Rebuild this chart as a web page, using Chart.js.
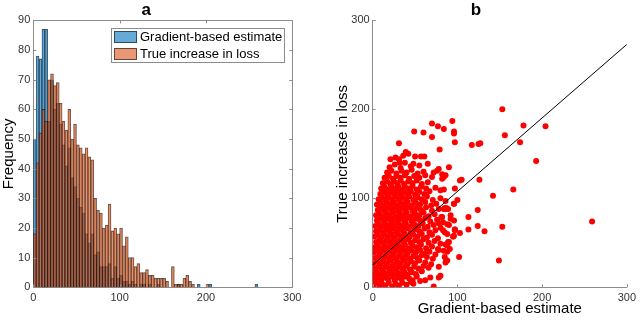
<!DOCTYPE html>
<html>
<head>
<meta charset="utf-8">
<script src="https://cdn.jsdelivr.net/npm/chart.js@4.4.1/dist/chart.umd.min.js"></script>
<style>
  html, body { margin: 0; padding: 0; background: #fff; }
  #wrap { position: relative; width: 640px; height: 320px; overflow: hidden; }
  #wrap canvas { position: absolute; top: 0; }
  #histChart { left: 0; }
  #scatterChart { left: 320px; }
</style>
</head>
<body>
<div id="wrap">
  <canvas id="histChart" width="320" height="320"></canvas>
  <canvas id="scatterChart" width="320" height="320"></canvas>
</div>
<script>
// ---- data ----
const binWidth = 10 / 3;

// panel a: counts per bin (bin i covers i*binWidth .. (i+1)*binWidth)
const gradientCounts = [
  50, 78, 77, 87, 87, 56, 70, 60, 62, 55, 48, 41, 47, 37, 34, 30, 27, 25, 18, 15,
  18, 11, 12, 7, 7, 7, 8, 3, 7, 3, 4, 2, 2, 1, 2, 1, 0, 1, 1, 0,
  1, 0, 0, 1, 0, 0, 0, 0, 0, 0, 1, 0, 0, 0, 0, 0, 0, 1, 0, 0,
  0, 1, 0, 0, 0, 0, 0, 0, 0, 0, 0, 0, 0, 0, 0, 0, 0, 1
];
const trueCounts = [
  18, 42, 52, 60, 56, 70, 72, 68, 69, 62, 56, 53, 60, 50, 55, 48, 47, 45, 47, 44,
  43, 30, 26, 25, 20, 21, 28, 19, 20, 18, 20, 14, 17, 10, 10, 7, 8, 5, 5, 6,
  4, 4, 3, 3, 3, 3, 2, 0, 7, 1, 1, 1, 3, 4, 2, 1, 0, 0, 0, 0, 1
];

const histXTicks = [0, 100, 200, 300];
const histYTicks = [0, 10, 20, 30, 40, 50, 60, 70, 80, 90];
const scatterTicks = [0, 100, 200, 300];

// panel b: [gradient-based estimate, true increase in loss]
const scatterPoints = [
  [1,2],[4,5],[8,1],[11,4],[15,2],[19,5],[23,1],[27,4],[31,2],[35,5],[40,3],[45,6],[48,4],[56,7],[72,1],
  [2,9],[6,11],[10,8],[14,11],[18,9],[22,12],[26,8],[30,11],[34,9],[38,12],[43,10],[47,8],[52,12],[62,8],[68,11],
  [1,15],[5,17],[9,14],[13,17],[17,15],[21,18],[25,14],[29,17],[33,15],[37,18],[41,14],[46,17],[51,15],[58,18],[80,13],
  [3,21],[7,23],[11,20],[15,23],[19,21],[23,24],[27,20],[31,23],[35,21],[39,24],[44,20],[49,23],[54,21],[60,24],[66,22],
  [1,27],[5,29],[9,26],[13,29],[17,27],[21,30],[25,26],[29,29],[33,27],[37,30],[41,26],[45,29],[50,27],[55,30],[62,28],[69,26],
  [3,33],[7,35],[11,32],[15,35],[19,33],[23,36],[27,32],[31,35],[35,33],[39,36],[43,32],[48,35],[53,33],[58,36],[64,34],[71,32],[87,30],
  [1,39],[5,41],[9,38],[13,41],[17,39],[21,42],[25,38],[29,41],[33,39],[37,42],[41,38],[46,41],[51,39],[56,42],[61,38],[67,40],[74,37],[84,41],
  [2,45],[6,47],[10,44],[14,47],[18,45],[22,48],[26,44],[30,47],[34,45],[38,48],[42,44],[47,47],[52,45],[57,48],[63,44],[70,46],[77,43],[86,48],
  [4,51],[8,53],[12,50],[16,53],[20,51],[24,54],[28,50],[32,53],[36,51],[40,54],[45,50],[50,53],[55,51],[60,54],[66,50],[73,52],[80,49],[90,51],
  [2,57],[6,59],[10,56],[14,59],[18,57],[22,60],[26,56],[30,59],[34,57],[38,60],[43,56],[48,59],[53,57],[58,60],[64,56],[70,59],[77,55],[95,57],
  [4,63],[8,65],[12,62],[16,65],[20,63],[24,66],[28,62],[32,65],[36,63],[40,66],[45,62],[50,65],[55,63],[61,66],[67,62],[74,64],[85,62],[97,65],
  [3,69],[7,71],[11,68],[15,71],[19,69],[23,72],[27,68],[31,71],[35,69],[39,72],[44,68],[49,71],[54,69],[59,72],[65,68],[72,70],[80,67],[88,71],
  [5,75],[9,77],[13,74],[17,77],[21,75],[25,78],[29,74],[33,77],[37,75],[41,78],[46,74],[51,77],[56,75],[62,78],[68,74],[76,76],[83,73],[92,77],
  [4,81],[8,83],[12,80],[16,83],[20,81],[24,84],[28,80],[32,83],[36,81],[40,84],[45,80],[50,83],[55,81],[60,84],[66,80],[73,82],[81,79],[86,88],
  [6,87],[10,89],[14,86],[18,89],[22,87],[26,90],[30,86],[34,89],[38,87],[42,90],[47,86],[52,89],[57,87],[63,90],[70,86],[78,88],[84,88],[96,94],
  [5,93],[9,95],[13,92],[17,95],[21,93],[25,96],[29,92],[33,95],[37,93],[41,96],[46,92],[51,95],[56,93],[62,96],[69,92],[75,94],
  [7,99],[11,101],[15,98],[19,101],[23,99],[27,102],[31,98],[35,101],[39,99],[43,102],[48,98],[53,101],[58,99],[64,102],[71,98],
  [9,105],[13,107],[17,104],[21,107],[25,105],[29,108],[33,104],[37,107],[41,105],[45,108],[50,104],[55,107],[61,105],[67,108],
  [10,111],[14,113],[18,110],[22,113],[26,111],[30,114],[34,110],[38,113],[42,111],[47,114],[52,110],[57,113],[63,111],[74,112],
  [12,117],[17,119],[21,116],[25,119],[29,117],[33,120],[37,116],[42,119],[47,117],[52,120],[58,116],[65,118],
  [14,123],[19,125],[24,122],[28,125],[33,123],[38,126],[43,122],[49,125],[55,123],[62,126],[70,124],
  [17,129],[22,131],[28,128],[34,131],[40,129],[46,132],[53,128],[60,130],[72,129],[76,131],
  [20,135],[26,138],[33,134],[38,140],[45,136],[55,137],[65,139],[32,140],[48,139],
  [21,144],[31,144],[42,150],[39,152],[50,147],[57,147],[61,147],[36,148],[27,146],
  [31,162],[60,174],[70,184],[77,181],[84,178],[94,187],[96,175],[96,173],[97,163],[70,169],[79,155],[49,175],
  [117,160],[125,161],[127,162],[153,200],[178,182],[204,181],[156,171],[174,163],[193,142],[166,110],[142,103],
  [259,74],[153,68],[132,63],[149,30],[126,121],[124,87],[124,69],[113,79],[113,65],[103,120],[105,121],[102,34],
  [103,61],[97,111],[96,94],[96,75],[97,65],[95,57],[90,135],[82,127],[84,124],[89,88],[92,81],[86,97],[84,110],
  [100,98],[88,60],[91,43],[85,34],[78,23],[86,28],[78,133],[82,122],[86,126],[80,109],[80,100],[85,89],[87,89],
  [82,79],[90,70],[78,72],[83,64],[97,64],[96,58],[89,51],[88,47],[78,42],[88,40],[88,30],[78,11]
];

const fitX = [0, 300];
const fitY = [25, 273];

// ---- styling ----
const fontFamily = "'Liberation Sans', Arial, Helvetica, sans-serif";
const axisColor = "#8c8c8c";
const labelColor = "#333333";
const blueFill = "rgba(0, 114, 189, 0.6)";
const orangeFill = "rgba(217, 83, 25, 0.6)";
const barEdge = "rgba(0, 0, 0, 0.65)";

Chart.defaults.font.family = fontFamily;
Chart.defaults.color = labelColor;
Chart.defaults.animation = false;

function binSeries(counts) {
  return counts.map((count, i) => ({ x: (i + 0.5) * binWidth, y: count }));
}

function fixedTicks(values) {
  return (scale) => {
    scale.ticks = values.map((value) => ({ value }));
  };
}

// small inward tick marks, MATLAB style; optional top/right box lines
const innerTicks = {
  id: "innerTicks",
  afterDatasetsDraw(chart, args, opts) {
    const { ctx, chartArea: area, scales } = chart;
    const len = 3;
    ctx.save();
    ctx.strokeStyle = axisColor;
    ctx.lineWidth = 1;
    ctx.beginPath();
    scales.x.ticks.forEach((tick) => {
      const px = Math.round(scales.x.getPixelForValue(tick.value)) + 0.5;
      ctx.moveTo(px, area.bottom);
      ctx.lineTo(px, area.bottom - len);
      if (opts.box) {
        ctx.moveTo(px, area.top);
        ctx.lineTo(px, area.top + len);
      }
    });
    scales.y.ticks.forEach((tick) => {
      const py = Math.round(scales.y.getPixelForValue(tick.value)) + 0.5;
      ctx.moveTo(area.left, py);
      ctx.lineTo(area.left + len, py);
      if (opts.box) {
        ctx.moveTo(area.right, py);
        ctx.lineTo(area.right - len, py);
      }
    });
    if (opts.box) {
      const top = Math.round(area.top) + 0.5;
      const right = Math.round(area.right) + 0.5;
      ctx.moveTo(area.left, top);
      ctx.lineTo(right, top);
      ctx.lineTo(right, area.bottom);
    }
    ctx.stroke();
    ctx.restore();
  }
};

// legend box in the top right of panel a
const boxLegend = {
  id: "boxLegend",
  afterDraw(chart, args, opts) {
    if (!opts.display) return;
    const { ctx } = chart;
    const { left, top, width, height } = opts;
    ctx.save();
    ctx.fillStyle = "#ffffff";
    ctx.fillRect(left, top, width, height);
    ctx.strokeStyle = axisColor;
    ctx.lineWidth = 1;
    ctx.strokeRect(left + 0.5, top + 0.5, width, height);
    ctx.font = `13px ${fontFamily}`;
    ctx.textBaseline = "middle";
    const rowH = 17;
    chart.data.datasets
      .slice()
      .sort((a, b) => a.legendRank - b.legendRank)
      .forEach((ds, i) => {
        const cy = top + 9 + i * rowH;
        ctx.fillStyle = "#ffffff";
        ctx.fillRect(left + 3, cy - 6, 23, 12);
        ctx.fillStyle = ds.backgroundColor;
        ctx.fillRect(left + 3, cy - 6, 23, 12);
        ctx.strokeStyle = "rgba(0,0,0,0.55)";
        ctx.strokeRect(left + 3.5, cy - 5.5, 22, 11);
        ctx.fillStyle = "#000000";
        ctx.fillText(ds.label, left + 29, cy + 0.5);
      });
    ctx.restore();
  }
};

const tickFont = { family: fontFamily, size: 11 };

new Chart(document.getElementById("histChart"), {
  type: "bar",
  data: {
    datasets: [
      {
        label: "Gradient-based estimate",
        legendRank: 0,
        data: binSeries(gradientCounts),
        backgroundColor: blueFill,
        borderColor: barEdge,
        borderWidth: 0.6,
        order: 2
      },
      {
        label: "True increase in loss",
        legendRank: 1,
        data: binSeries(trueCounts),
        backgroundColor: orangeFill,
        borderColor: barEdge,
        borderWidth: 0.6,
        order: 1
      }
    ]
  },
  options: {
    responsive: false,
    devicePixelRatio: 1,
    animation: false,
    grouped: false,
    barPercentage: 1,
    categoryPercentage: 1,
    layout: { autoPadding: false, padding: { left: 0, right: 27.7, top: 0, bottom: 0 } },
    plugins: {
      legend: { display: false },
      tooltip: { enabled: false },
      title: {
        display: true,
        text: "a",
        color: "#000000",
        font: { family: fontFamily, size: 17, weight: "bold" },
        padding: { top: 0, bottom: 0 }
      },
      innerTicks: { box: true },
      boxLegend: { display: true, left: 111, top: 28, width: 173, height: 34 }
    },
    scales: {
      x: {
        type: "linear",
        min: 0,
        max: 300,
        offset: false,
        afterBuildTicks: fixedTicks(histXTicks),
        afterFit(scale) { scale.height = 32.7; },
        grid: { display: false, drawTicks: false },
        border: { display: true, color: axisColor, width: 1 },
        ticks: { font: tickFont, color: labelColor, padding: 4, maxRotation: 0 }
      },
      y: {
        min: 0,
        max: 90,
        afterBuildTicks: fixedTicks(histYTicks),
        afterFit(scale) { scale.width = 33.3; },
        grid: { display: false, drawTicks: false },
        border: { display: true, color: axisColor, width: 1 },
        ticks: { font: tickFont, color: labelColor, padding: 3 },
        title: {
          display: true,
          text: "Frequency",
          color: "#000000",
          font: { family: fontFamily, size: 15 },
          padding: { top: 0, bottom: 0 }
        }
      }
    }
  },
  plugins: [innerTicks, boxLegend]
});

new Chart(document.getElementById("scatterChart"), {
  type: "scatter",
  data: {
    datasets: [
      {
        label: "Points",
        data: scatterPoints.map(([x, y]) => ({ x, y })),
        backgroundColor: "#ff0000",
        borderWidth: 0,
        pointRadius: 3,
        order: 2
      },
      {
        label: "Fit",
        data: fitX.map((x, i) => ({ x, y: fitY[i] })),
        showLine: true,
        borderColor: "#000000",
        borderWidth: 1,
        pointRadius: 0,
        order: 1
      }
    ]
  },
  options: {
    responsive: false,
    devicePixelRatio: 1,
    animation: false,
    layout: { autoPadding: false, padding: { left: 0, right: 8.3, top: 0, bottom: 0 } },
    plugins: {
      legend: { display: false },
      tooltip: { enabled: false },
      title: {
        display: true,
        text: "b",
        color: "#000000",
        font: { family: fontFamily, size: 17, weight: "bold" },
        padding: { top: 0, bottom: 0 }
      },
      innerTicks: { box: false }
    },
    scales: {
      x: {
        type: "linear",
        min: 0,
        max: 300,
        afterBuildTicks: fixedTicks(scatterTicks),
        afterFit(scale) { scale.height = 32.7; },
        grid: { display: false, drawTicks: false },
        border: { display: true, color: axisColor, width: 1 },
        ticks: { font: tickFont, color: labelColor, padding: 4, maxRotation: 0 },
        title: {
          display: true,
          text: "Gradient-based estimate",
          color: "#000000",
          font: { family: fontFamily, size: 15 },
          padding: { top: 0, bottom: 2 }
        }
      },
      y: {
        type: "linear",
        min: 0,
        max: 300,
        afterBuildTicks: fixedTicks(scatterTicks),
        afterFit(scale) { scale.width = 52.7; },
        grid: { display: false, drawTicks: false },
        border: { display: true, color: axisColor, width: 1 },
        ticks: { font: tickFont, color: labelColor, padding: 3 },
        title: {
          display: true,
          text: "True increase in loss",
          color: "#000000",
          font: { family: fontFamily, size: 15 },
          padding: { top: 13.5, bottom: 0 }
        }
      }
    }
  },
  plugins: [innerTicks]
});
</script>
</body>
</html>
